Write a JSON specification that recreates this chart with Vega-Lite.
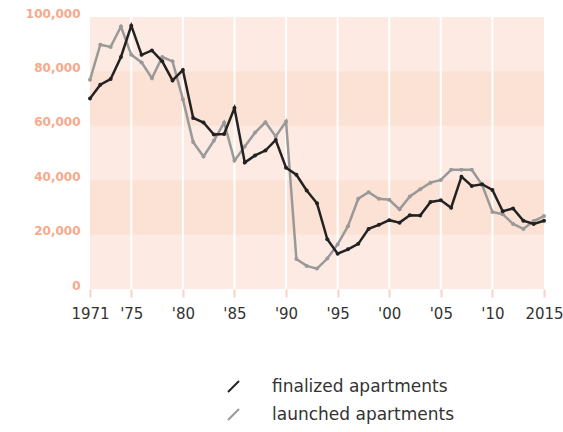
{
  "$schema": "https://vega.github.io/schema/vega-lite/v6.json",
  "width": 454,
  "height": 272,
  "autosize": {"type": "none"},
  "padding": {"left": 90, "top": 17, "right": 19, "bottom": 143},
  "background": "white",
  "view": {"fill": "#fdebe3", "stroke": null},
  "config": {"font": "DejaVu Sans", "view": {"stroke": null}},
  "datasets": {
    "apartments": [
      {"year": 1971, "series": "finalized apartments", "value": 70000},
      {"year": 1972, "series": "finalized apartments", "value": 75100},
      {"year": 1973, "series": "finalized apartments", "value": 77200},
      {"year": 1974, "series": "finalized apartments", "value": 85300},
      {"year": 1975, "series": "finalized apartments", "value": 96800},
      {"year": 1976, "series": "finalized apartments", "value": 86100},
      {"year": 1977, "series": "finalized apartments", "value": 87700},
      {"year": 1978, "series": "finalized apartments", "value": 83700},
      {"year": 1979, "series": "finalized apartments", "value": 76700},
      {"year": 1980, "series": "finalized apartments", "value": 80500},
      {"year": 1981, "series": "finalized apartments", "value": 62900},
      {"year": 1982, "series": "finalized apartments", "value": 61200},
      {"year": 1983, "series": "finalized apartments", "value": 56800},
      {"year": 1984, "series": "finalized apartments", "value": 57000},
      {"year": 1985, "series": "finalized apartments", "value": 66500},
      {"year": 1986, "series": "finalized apartments", "value": 46500},
      {"year": 1987, "series": "finalized apartments", "value": 49100},
      {"year": 1988, "series": "finalized apartments", "value": 50900},
      {"year": 1989, "series": "finalized apartments", "value": 54800},
      {"year": 1990, "series": "finalized apartments", "value": 44600},
      {"year": 1991, "series": "finalized apartments", "value": 42000},
      {"year": 1992, "series": "finalized apartments", "value": 36200},
      {"year": 1993, "series": "finalized apartments", "value": 31500},
      {"year": 1994, "series": "finalized apartments", "value": 18300},
      {"year": 1995, "series": "finalized apartments", "value": 13000},
      {"year": 1996, "series": "finalized apartments", "value": 14600},
      {"year": 1997, "series": "finalized apartments", "value": 16600},
      {"year": 1998, "series": "finalized apartments", "value": 22100},
      {"year": 1999, "series": "finalized apartments", "value": 23600},
      {"year": 2000, "series": "finalized apartments", "value": 25300},
      {"year": 2001, "series": "finalized apartments", "value": 24400},
      {"year": 2002, "series": "finalized apartments", "value": 27100},
      {"year": 2003, "series": "finalized apartments", "value": 27000},
      {"year": 2004, "series": "finalized apartments", "value": 32000},
      {"year": 2005, "series": "finalized apartments", "value": 32600},
      {"year": 2006, "series": "finalized apartments", "value": 29900},
      {"year": 2007, "series": "finalized apartments", "value": 41300},
      {"year": 2008, "series": "finalized apartments", "value": 37900},
      {"year": 2009, "series": "finalized apartments", "value": 38500},
      {"year": 2010, "series": "finalized apartments", "value": 36400},
      {"year": 2011, "series": "finalized apartments", "value": 28600},
      {"year": 2012, "series": "finalized apartments", "value": 29600},
      {"year": 2013, "series": "finalized apartments", "value": 25100},
      {"year": 2014, "series": "finalized apartments", "value": 23900},
      {"year": 2015, "series": "finalized apartments", "value": 25100},
      {"year": 1971, "series": "launched apartments", "value": 76900},
      {"year": 1972, "series": "launched apartments", "value": 89800},
      {"year": 1973, "series": "launched apartments", "value": 89000},
      {"year": 1974, "series": "launched apartments", "value": 96500},
      {"year": 1975, "series": "launched apartments", "value": 86100},
      {"year": 1976, "series": "launched apartments", "value": 83300},
      {"year": 1977, "series": "launched apartments", "value": 77500},
      {"year": 1978, "series": "launched apartments", "value": 85300},
      {"year": 1979, "series": "launched apartments", "value": 83700},
      {"year": 1980, "series": "launched apartments", "value": 69800},
      {"year": 1981, "series": "launched apartments", "value": 54000},
      {"year": 1982, "series": "launched apartments", "value": 48700},
      {"year": 1983, "series": "launched apartments", "value": 54500},
      {"year": 1984, "series": "launched apartments", "value": 61200},
      {"year": 1985, "series": "launched apartments", "value": 47200},
      {"year": 1986, "series": "launched apartments", "value": 52400},
      {"year": 1987, "series": "launched apartments", "value": 57500},
      {"year": 1988, "series": "launched apartments", "value": 61300},
      {"year": 1989, "series": "launched apartments", "value": 56100},
      {"year": 1990, "series": "launched apartments", "value": 61600},
      {"year": 1991, "series": "launched apartments", "value": 11000},
      {"year": 1992, "series": "launched apartments", "value": 8500},
      {"year": 1993, "series": "launched apartments", "value": 7500},
      {"year": 1994, "series": "launched apartments", "value": 11200},
      {"year": 1995, "series": "launched apartments", "value": 16400},
      {"year": 1996, "series": "launched apartments", "value": 23100},
      {"year": 1997, "series": "launched apartments", "value": 33200},
      {"year": 1998, "series": "launched apartments", "value": 35600},
      {"year": 1999, "series": "launched apartments", "value": 33200},
      {"year": 2000, "series": "launched apartments", "value": 32800},
      {"year": 2001, "series": "launched apartments", "value": 29300},
      {"year": 2002, "series": "launched apartments", "value": 34000},
      {"year": 2003, "series": "launched apartments", "value": 36700},
      {"year": 2004, "series": "launched apartments", "value": 39100},
      {"year": 2005, "series": "launched apartments", "value": 40100},
      {"year": 2006, "series": "launched apartments", "value": 43800},
      {"year": 2007, "series": "launched apartments", "value": 43800},
      {"year": 2008, "series": "launched apartments", "value": 43800},
      {"year": 2009, "series": "launched apartments", "value": 38300},
      {"year": 2010, "series": "launched apartments", "value": 28300},
      {"year": 2011, "series": "launched apartments", "value": 27500},
      {"year": 2012, "series": "launched apartments", "value": 23900},
      {"year": 2013, "series": "launched apartments", "value": 22100},
      {"year": 2014, "series": "launched apartments", "value": 25000},
      {"year": 2015, "series": "launched apartments", "value": 26800}
    ]
  },
  "layer": [
    {
      "data": {"values": [{"lo": 20000, "hi": 40000}, {"lo": 60000, "hi": 80000}]},
      "mark": {"type": "rect", "color": "#fce1d5"},
      "encoding": {
        "y": {"field": "lo", "type": "quantitative", "scale": {"domain": [0, 100000], "nice": false},
          "axis": {
            "values": [0, 20000, 40000, 60000, 80000, 100000],
            "labelExpr": "format(datum.value, ',')",
            "title": null, "grid": false, "domain": false, "ticks": false,
            "labelColor": "#f7a98b", "labelFontSize": 12, "labelFontWeight": "bold", "labelPadding": 10,
            "labelBaseline": "alphabetic", "labelFont": "DejaVu Sans"
          }
        },
        "y2": {"field": "hi"}
      }
    },
    {
      "data": {"values": [{"year": 1975}, {"year": 1980}, {"year": 1985}, {"year": 1990}, {"year": 1995}, {"year": 2000}, {"year": 2005}, {"year": 2010}]},
      "mark": {"type": "rule", "color": "white", "strokeWidth": 2},
      "encoding": {
        "x": {"field": "year", "type": "quantitative", "scale": {"domain": [1971, 2015], "nice": false, "zero": false},
          "axis": {
            "values": [1971, 1975, 1980, 1985, 1990, 1995, 2000, 2005, 2010, 2015],
            "labelExpr": "datum.value == 1971 || datum.value == 2015 ? '' + datum.value : \"'\" + substring('' + datum.value, 2, 4)",
            "title": null, "grid": false, "domain": false,
            "tickColor": "#fbd2c2", "tickSize": 8, "tickWidth": 2,
            "labelColor": "#333333", "labelFontSize": 15, "labelPadding": 9,
            "labelFont": "DejaVu Sans", "labelOverlap": false, "labelFlush": false, "labelBound": false
          }
        }
      }
    },
    {
      "data": {"name": "apartments"},
      "transform": [{"filter": "datum.series === 'launched apartments'"}],
      "mark": {"type": "line", "strokeWidth": 2.5, "point": {"filled": true, "size": 16}},
      "encoding": {
        "x": {"field": "year", "type": "quantitative"},
        "y": {"field": "value", "type": "quantitative"},
        "color": {"field": "series", "type": "nominal"}
      }
    },
    {
      "data": {"name": "apartments"},
      "transform": [{"filter": "datum.series === 'finalized apartments'"}],
      "mark": {"type": "line", "strokeWidth": 2.5, "point": {"filled": true, "size": 16}},
      "encoding": {
        "x": {"field": "year", "type": "quantitative"},
        "y": {"field": "value", "type": "quantitative"},
        "color": {"field": "series", "type": "nominal",
          "scale": {"domain": ["finalized apartments", "launched apartments"], "range": ["#222222", "#999999"]},
          "legend": {
            "title": null, "orient": "none", "legendX": 135, "legendY": 361,
            "symbolType": "M-1,1L1,-1", "symbolSize": 121, "symbolStrokeWidth": 2,
            "labelFontSize": 17, "labelColor": "#333333", "labelOffset": 30, "labelLimit": 400,
            "rowPadding": 9, "padding": 0, "labelFont": "DejaVu Sans"
          }
        }
      }
    }
  ]
}
